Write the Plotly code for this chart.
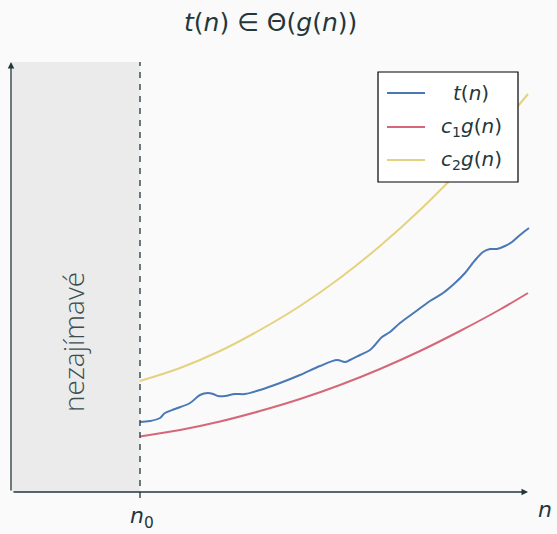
import plotly.graph_objects as go

# Schematic growth curves: n on the horizontal axis, value on the vertical axis
n0 = 128

n_t = [128, 138, 148, 153, 163, 178, 188, 196, 201, 206, 213, 223, 233, 248, 268,
       288, 308, 325, 333, 338, 348, 358, 363, 370, 378, 388, 403, 418, 431, 443,
       453, 460, 465, 471, 478, 485, 493, 500, 508, 517]
t_vals = [70, 71, 74, 79, 83, 89, 97, 99, 98, 96, 96, 98, 98, 102, 109,
          117, 126, 132, 130, 132, 137, 142, 147, 155, 160, 169, 180, 191, 199, 209,
          219, 228, 234, 240, 243, 243, 246, 250, 257, 264]

n_g = [128, 168, 208, 248, 288, 328, 368, 408, 448, 488, 516]
c1g_vals = [55.5, 62, 70.5, 81, 93, 107, 123, 141, 161, 182.5, 199]
c2g_vals = [111, 124, 141, 162, 186, 214, 246, 282, 322, 365, 398]

series_names = ["<i>t</i>(<i>n</i>)",
                "<i>c</i><sub>1</sub><i>g</i>(<i>n</i>)",
                "<i>c</i><sub>2</sub><i>g</i>(<i>n</i>)"]
series_colors = ["#4a78b4", "#d6677a", "#e5d281"]

title_text = "<i>t</i>(<i>n</i>) ∈ Θ(<i>g</i>(<i>n</i>))"
region_text = "nezajímavé"

TEXT = "#23373b"
FONT = "DejaVu Sans"

fig = go.Figure()

series = [(n_t, t_vals), (n_g, c1g_vals), (n_g, c2g_vals)]
for (xs, ys), name, col in zip(series, series_names, series_colors):
    fig.add_trace(go.Scatter(
        x=xs, y=ys, mode="lines", name=name,
        line=dict(color=col, width=2, shape="spline", smoothing=1.0),
        showlegend=False, hoverinfo="skip",
    ))

x_end, y_end = 516, 430

shapes = [
    # uninteresting region before n0
    dict(type="rect", x0=0, x1=n0, y0=0, y1=y_end, fillcolor="#ebebeb",
         line=dict(width=0), layer="below"),
    # dashed marker at n0
    dict(type="line", x0=n0, x1=n0, y0=-6, y1=y_end,
         line=dict(color=TEXT, width=1.3, dash="6px,6px"), layer="above"),
]

# legend frame
lx0, lx1, ly0, ly1 = 366, 506, 310, 420
shapes.append(dict(type="rect", x0=lx0, x1=lx1, y0=ly0, y1=ly1,
                   fillcolor="#ffffff", line=dict(color="#000000", width=1.2),
                   layer="above"))
legend_rows = [399, 365, 332]
for yy, col in zip(legend_rows, series_colors):
    shapes.append(dict(type="line", x0=375, x1=413, y0=yy, y1=yy,
                       line=dict(color=col, width=2), layer="above"))

annotations = [
    # axes with arrow tips
    dict(x=x_end, y=0, ax=0, ay=0, xref="x", yref="y", axref="x", ayref="y",
         showarrow=True, arrowhead=2, arrowsize=1, arrowwidth=1.3,
         arrowcolor=TEXT, text=""),
    dict(x=-1, y=y_end, ax=-1, ay=0, xref="x", yref="y", axref="x", ayref="y",
         showarrow=True, arrowhead=2, arrowsize=1, arrowwidth=1.3,
         arrowcolor=TEXT, text=""),
    dict(x=258, y=470, xref="x", yref="y", text=title_text, showarrow=False,
         font=dict(family=FONT, size=25, color=TEXT)),
    dict(x=n0 + 2, y=-25, xref="x", yref="y", text="<i>n</i><sub>0</sub>",
         showarrow=False, font=dict(family=FONT, size=22, color=TEXT)),
    dict(x=533, y=-17, xref="x", yref="y", text="<i>n</i>",
         showarrow=False, font=dict(family=FONT, size=22, color=TEXT)),
    dict(x=61, y=150, xref="x", yref="y", text=region_text, textangle=-90,
         showarrow=False, font=dict(family="Open Sans", size=28, color="#3b4d50",
                                    weight=300)),
]
for yy, name in zip(legend_rows, series_names):
    annotations.append(dict(x=459, y=yy, xref="x", yref="y", text=name,
                            showarrow=False,
                            font=dict(family=FONT, size=20, color=TEXT)))

fig.update_layout(
    width=557, height=534,
    margin=dict(l=0, r=0, t=0, b=0),
    paper_bgcolor="#fafafa", plot_bgcolor="#fafafa",
    xaxis=dict(range=[-12, 545], visible=False, fixedrange=True),
    yaxis=dict(range=[-42, 492], visible=False, fixedrange=True),
    shapes=shapes, annotations=annotations,
)

fig.write_html("out.html")
